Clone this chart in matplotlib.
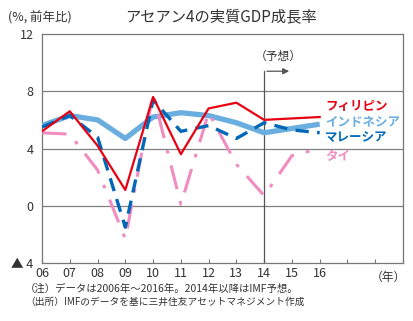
import matplotlib
matplotlib.use("Agg")
import matplotlib.pyplot as plt

plt.rcParams['font.family'] = ['Noto Sans CJK JP', 'DejaVu Sans']

years = [6, 7, 8, 9, 10, 11, 12, 13, 14, 15, 16]
year_labels = ['06', '07', '08', '09', '10', '11', '12', '13', '14', '15', '16']
philippines = [5.2, 6.6, 4.2, 1.1, 7.6, 3.6, 6.8, 7.2, 6.0, 6.1, 6.2]
indonesia = [5.6, 6.3, 6.0, 4.7, 6.2, 6.5, 6.3, 5.8, 5.1, 5.4, 5.7]
malaysia = [5.5, 6.3, 4.8, -1.5, 7.4, 5.2, 5.6, 4.7, 5.8, 5.3, 5.1]
thailand = [5.1, 5.0, 2.5, -2.3, 7.8, 0.1, 6.5, 2.9, 0.7, 3.5, 4.0]
names = ['フィリピン', 'インドネシア', 'マレーシア', 'タイ']
yticks = [-4, 0, 4, 8, 12]
ytick_labels = ['▲ 4', '0', '4', '8', '12']

c_red = '#e60012'
c_lblue = '#6aaee0'
c_dblue = '#0068b7'
c_pink = '#f08cc0'
c_text = '#333333'

fig = plt.figure(figsize=(4.13, 3.21), dpi=100)
ax = fig.add_axes([42/413, 1-263/321, (403-42)/413, (263-34)/321])
ax.set_xlim(6, 19)
ax.set_ylim(-4, 12)

for y in [0, 4, 8]:
    ax.axhline(y, color='#808080', lw=0.9, zorder=1)

ax.plot(years, indonesia, color=c_lblue, lw=3.8, solid_capstyle='butt', zorder=3)
ax.plot(years, thailand, color=c_pink, lw=2.2, dashes=(8, 4, 1.2, 4), zorder=3)
ax.plot(years, malaysia, color=c_dblue, lw=2.4, dashes=(4, 2.5), zorder=4)
ax.plot(years, philippines, color=c_red, lw=1.6, zorder=5)

# forecast marker
ax.plot([14, 14], [-4, 9.4], color='#555555', lw=0.9, zorder=2)
ax.annotate('', xy=(15.0, 9.4), xytext=(14, 9.4),
            arrowprops=dict(arrowstyle='-|>', color='#555555', lw=0.9, mutation_scale=9))
ax.text(14.5, 10.45, '（予想）', fontsize=8.5, color=c_text, ha='center', va='center')

# series labels
lbl_y = [6.9, 5.8, 4.8, 3.45]
for n, c, y in zip(names, [c_red, c_lblue, c_dblue, c_pink], lbl_y):
    ax.text(16.2, y, n, color=c, fontsize=9, fontweight='bold', ha='left', va='center')

for s in ax.spines.values():
    s.set_color('#777777')
    s.set_linewidth(0.9)

ax.set_xticks(list(range(6, 20)))
ax.set_xticklabels(year_labels + ['', '', ''])
ax.tick_params(axis='x', direction='in', length=3, color='#777777', labelsize=9,
               labelcolor=c_text, pad=3)
ax.set_yticks(yticks)
ax.set_yticklabels(ytick_labels)
ax.tick_params(axis='y', length=0, labelsize=9, labelcolor=c_text, pad=6)

fig.text(8/413, 1-18/321, '(%, 前年比)', fontsize=9, color=c_text, ha='left', va='center')
fig.text(221/413, 1-17/321, 'アセアン4の実質GDP成長率', fontsize=11, color=c_text,
         ha='center', va='center')
fig.text(388/413, 1-277/321, '（年）', fontsize=8.5, color=c_text, ha='center', va='center')
fig.text(25/413, 1-289/321, '（注）データは2006年～2016年。2014年以降はIMF予想。',
         fontsize=7.5, color=c_text, ha='left', va='center')
fig.text(25/413, 1-302/321, '（出所）IMFのデータを基に三井住友アセットマネジメント作成',
         fontsize=7, color=c_text, ha='left', va='center')

fig.savefig('out.png', dpi=100)
